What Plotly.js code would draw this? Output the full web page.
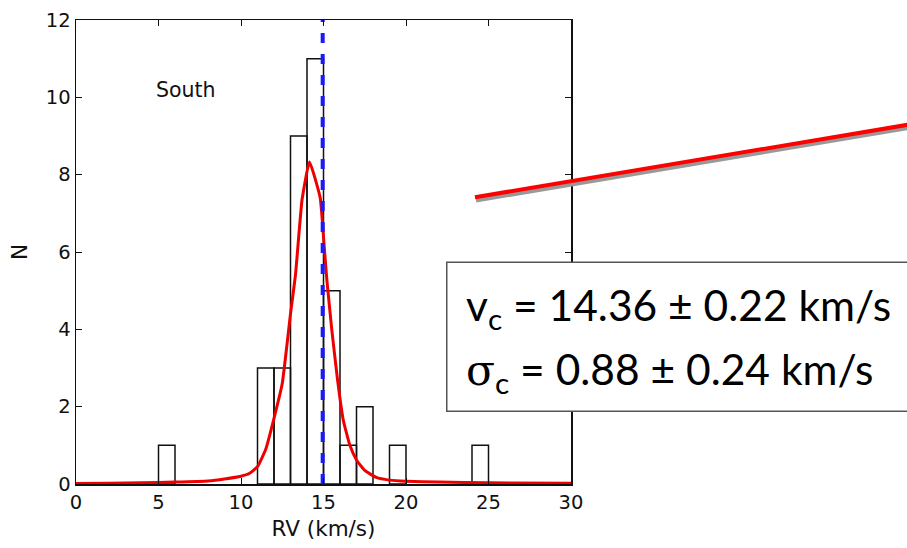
<!DOCTYPE html>
<html>
<head>
<meta charset="utf-8">
<script src="https://cdn.plot.ly/plotly-3.0.1.min.js"></script>
<style>html,body{margin:0;padding:0;background:#fff;} #chart{width:907px;height:548px;}</style>
</head>
<body>
<div id="chart"></div>
<script>
// Histogram bins (left edges, width 1 km/s) and counts
const binLeft = [5, 11, 12, 13, 14, 15, 16, 17, 19, 24];
const binCounts = [1, 3, 3, 9, 11, 5, 1, 2, 1, 1];
const binWidth = 1;

// Fitted model curve (RV, N)
const fitX = [0, 2, 4, 6, 8, 9, 10, 10.5, 11, 11.5, 12, 12.5, 13, 13.3, 13.7, 14.15, 14.8, 15.05, 15.2, 15.5, 15.85, 16.2, 16.6, 17, 17.5, 18.2, 19, 20, 22, 25, 30];
const fitY = [0.01, 0.02, 0.03, 0.05, 0.08, 0.13, 0.2, 0.27, 0.45, 0.9, 1.7, 2.6, 4.4, 5.4, 7.35, 8.33, 7.4, 6.1, 5.3, 4.0, 2.7, 1.65, 1.0, 0.62, 0.35, 0.17, 0.1, 0.07, 0.05, 0.03, 0.02];

// Cluster velocity marker
const vLineX = [14.95, 14.95];
const vLineY = [0, 12];

const label = "South";
const line1 = "v<sub>c</sub> = 14.36 ± 0.22 km/s";
const line2 = "<span style=\"font-family:'DejaVu Serif'\">σ</span><sub>c</sub> = 0.88 ± 0.24 km/s";

const binCenters = binLeft.map(b => b + binWidth / 2);

const traces = [
  {
    type: 'bar', x: binCenters, y: binCounts, width: binWidth,
    marker: {color: 'rgba(255,255,255,0)', line: {color: '#111', width: 1.5}},
    hoverinfo: 'skip', showlegend: false
  },
  {
    type: 'scatter', mode: 'lines', x: fitX, y: fitY,
    line: {color: '#ee0000', width: 3, shape: 'spline', smoothing: 0.4}, showlegend: false
  },
  {
    type: 'scatter', mode: 'lines', x: vLineX, y: vLineY,
    line: {color: '#1a1aff', width: 4, dash: '10px,11px'}, showlegend: false
  }
];

const axisCommon = {
  showline: true, linecolor: '#111', linewidth: 1.5, mirror: 'allticks',
  ticks: 'inside', ticklen: 6, tickwidth: 1, tickcolor: '#111',
  showgrid: false, zeroline: false,
  tickfont: {family: 'DejaVu Sans', size: 19.5, color: '#111'}
};

const layout = {
  width: 907, height: 548,
  margin: {l: 76, r: 336, t: 20, b: 64},
  paper_bgcolor: '#fff', plot_bgcolor: '#fff',
  bargap: 0,
  xaxis: Object.assign({}, axisCommon, {
    range: [0, 30], tickvals: [0, 5, 10, 15, 20, 25, 30],
    title: {text: 'RV (km/s)', font: {family: 'DejaVu Sans', size: 21.5, color: '#111'}, standoff: 8}
  }),
  yaxis: Object.assign({}, axisCommon, {
    range: [0, 12], tickvals: [0, 2, 4, 6, 8, 10, 12],
    title: {text: 'N', font: {family: 'DejaVu Sans', size: 21.5, color: '#111'}, standoff: 12}
  }),
  shapes: [
    {type: 'line', xref: 'paper', yref: 'paper', x0: 0.808, y0: 0.612, x1: 1.69, y1: 0.770,
     line: {color: '#999', width: 5}},
    {type: 'line', xref: 'paper', yref: 'paper', x0: 0.806, y0: 0.618, x1: 1.69, y1: 0.776,
     line: {color: '#ff0000', width: 4}},
    {type: 'rect', xref: 'paper', yref: 'paper', x0: 0.749, y0: 0.157, x1: 1.70, y1: 0.478,
     fillcolor: '#fff', line: {color: '#555', width: 1.5}, layer: 'above'}
  ],
  annotations: [
    {xref: 'x', yref: 'y', x: 6.67, y: 10.2, text: label, showarrow: false,
     font: {family: 'DejaVu Sans', size: 20.5, color: '#111'}},
    {xref: 'paper', yref: 'paper', x: 0.783, y: 0.381, xanchor: 'left', yanchor: 'middle',
     text: line1, showarrow: false, font: {family: 'Lato', size: 42.5, color: '#000'}},
    {xref: 'paper', yref: 'paper', x: 0.783, y: 0.243, xanchor: 'left', yanchor: 'middle',
     text: line2, showarrow: false, font: {family: 'Lato', size: 42.5, color: '#000'}}
  ]
};

Plotly.newPlot('chart', traces, layout, {displayModeBar: false, staticPlot: true});
</script>
</body>
</html>
